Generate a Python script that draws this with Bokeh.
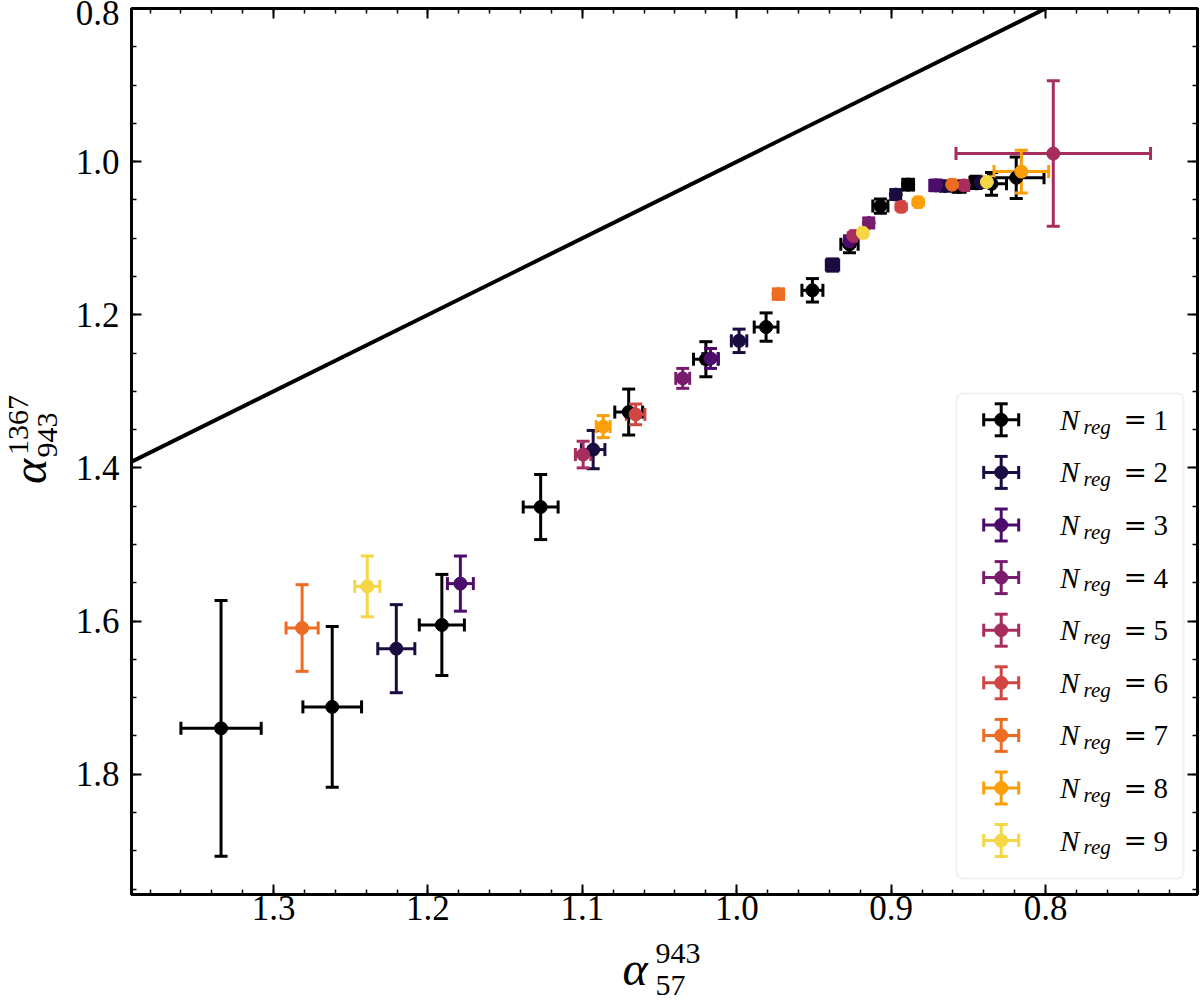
import math
from bokeh.plotting import figure
from bokeh.layouts import column, row
from bokeh.models import (Range1d, FixedTicker, LinearAxis, PrintfTickFormatter,
                          Slope, BoxAnnotation)
from bokeh.palettes import Inferno256
from bokeh.core.properties import value
from bokeh.embed import file_html
from bokeh.resources import INLINE

# ---------------------------------------------------------------- data
N_REG = [1, 2, 3, 4, 5, 6, 7, 8, 9]

# spectral index alpha_57^943 (x) per number of regions
ALPHA_X = [
    [1.334, 1.262, 1.191, 1.127, 1.070, 1.020, 0.981, 0.951, 0.927, 0.907, 0.889, 0.856, 0.845, 0.835, 0.819],
    [1.2205, 1.093, 0.9985, 0.938, 0.897, 0.865, 0.842],
    [1.179, 1.017, 0.927, 0.871],
    [1.035, 0.9145],
    [1.0995, 0.9245, 0.853, 0.795],
    [1.0655, 0.8935],
    [1.2815, 0.973, 0.8605],
    [1.0865, 0.8825, 0.8157],
    [1.2393, 0.9183, 0.838],
]
# spectral index alpha_943^1367 (y)
ALPHA_Y = [
    [1.740, 1.712, 1.605, 1.451, 1.327, 1.258, 1.216, 1.168, 1.108, 1.058, 1.030, 1.033, 1.027, 1.029, 1.021],
    [1.636, 1.376, 1.234, 1.135, 1.043, 1.032, 1.027],
    [1.551, 1.257, 1.104, 1.031],
    [1.283, 1.080],
    [1.3825, 1.097, 1.031, 0.9895],
    [1.330, 1.059],
    [1.609, 1.173, 1.030],
    [1.346, 1.053, 1.013],
    [1.5546, 1.093, 1.0265],
]
ERR_X = [
    [0.026, 0.019, 0.0146, 0.0113, 0.009, 0.008, 0.0077, 0.0068, 0.0056, 0.0049, 0.0035, 0.004, 0.004, 0.0097, 0.018],
    [0.012, 0.0076, 0.005, 0.004, 0.003, 0.003, 0.003],
    [0.0084, 0.005, 0.003, 0.004],
    [0.0045, 0.003],
    [0.005, 0.002, 0.003, 0.063],
    [0.006, 0.002],
    [0.0104, 0.0033, 0.002],
    [0.0045, 0.002, 0.0177],
    [0.0081, 0.002, 0.003],
]
ERR_Y = [
    [0.167, 0.105, 0.066, 0.0425, 0.030, 0.0229, 0.0185, 0.0153, 0.011, 0.0093, 0.007, 0.007, 0.008, 0.0148, 0.027],
    [0.0575, 0.025, 0.0153, 0.008, 0.006, 0.006, 0.006],
    [0.036, 0.013, 0.006, 0.007],
    [0.013, 0.006],
    [0.0174, 0.004, 0.006, 0.095],
    [0.0135, 0.004],
    [0.0566, 0.0067, 0.004],
    [0.0144, 0.004, 0.028],
    [0.0397, 0.004, 0.006],
]

X_MAJOR = [0.8, 0.9, 1.0, 1.1, 1.2, 1.3]
Y_MAJOR = [0.8, 1.0, 1.2, 1.4, 1.6, 1.8]
X_MINOR = [round(0.70 + 0.02 * i, 2) for i in range(35)]
Y_MINOR = [round(0.80 + 0.05 * i, 2) for i in range(24)]

# inferno colours sampled on [0, 0.9]
COLORS = [Inferno256[min(255, int(0.9 * k / 8 * 256))] for k in range(9)]

# ---------------------------------------------------------------- layout
W, H = 1200, 1002
YT_W = 66          # strip holding the y-axis title
XT_H = 68          # strip holding the x-axis title
MAIN_W, MAIN_H = W - YT_W, H - XT_H
B_L, B_R, B_T, B_B = 65, 3, 8, 40
FRAME_X0, FRAME_Y0 = YT_W + B_L, B_T          # frame corner on the page
FRAME_W = MAIN_W - B_L - B_R
FRAME_H = MAIN_H - B_T - B_B
X_START, X_END = 1.392, 0.7016
Y_BOTTOM, Y_TOP = 1.957, 0.8


def to_x(cx):
    return X_START + (cx - FRAME_X0) * (X_END - X_START) / FRAME_W


def to_y(cy):
    return Y_TOP + (cy - FRAME_Y0) * (Y_BOTTOM - Y_TOP) / FRAME_H


SERIF = "Liberation Serif"
LW = 3
CAP = 13
MSIZE = 13

p = figure(width=MAIN_W, height=MAIN_H, output_backend="svg", toolbar_location=None,
           x_range=Range1d(X_START, X_END), y_range=Range1d(Y_BOTTOM, Y_TOP),
           min_border_left=B_L, min_border_right=B_R,
           min_border_top=B_T, min_border_bottom=B_B)
p.xgrid.visible = False
p.ygrid.visible = False
p.outline_line_color = "black"
p.outline_line_width = 3
p.background_fill_color = "white"
p.border_fill_color = "white"

bottom_axis = p.below[0]
left_axis = p.left[0]
top_axis = LinearAxis()
right_axis = LinearAxis()
p.add_layout(top_axis, "above")
p.add_layout(right_axis, "right")

for ax, ticks, minor in ((bottom_axis, X_MAJOR, X_MINOR), (top_axis, X_MAJOR, X_MINOR),
                         (left_axis, Y_MAJOR, Y_MINOR), (right_axis, Y_MAJOR, Y_MINOR)):
    ax.ticker = FixedTicker(ticks=ticks, minor_ticks=minor)
    ax.formatter = PrintfTickFormatter(format="%.1f")
    ax.axis_line_width = 3
    ax.axis_line_color = "black"
    ax.major_tick_in = 10
    ax.major_tick_out = 0
    ax.minor_tick_in = 5
    ax.minor_tick_out = 0
    ax.major_tick_line_width = 2
    ax.minor_tick_line_width = 1.5
    ax.major_tick_line_color = "black"
    ax.minor_tick_line_color = "black"
    ax.major_label_text_font = SERIF
    ax.major_label_text_font_size = "35px"
    ax.major_label_text_color = "black"

bottom_axis.major_label_standoff = 1
left_axis.major_label_standoff = 12
# mirrored tick marks only on the top and right edges
for ax in (top_axis, right_axis):
    ax.major_label_text_color = None
    ax.major_label_text_alpha = 0
    ax.major_label_text_font_size = "1px"
    ax.major_label_standoff = 0

# one-to-one line
p.add_layout(Slope(gradient=1, y_intercept=0, line_color="black", line_width=4))

# error bars of all series first, markers on top
for k in range(len(N_REG)):
    c = COLORS[k]
    xs, ys, ex, ey = ALPHA_X[k], ALPHA_Y[k], ERR_X[k], ERR_Y[k]
    x_lo = [x - e for x, e in zip(xs, ex)]
    x_hi = [x + e for x, e in zip(xs, ex)]
    y_lo = [y - e for y, e in zip(ys, ey)]
    y_hi = [y + e for y, e in zip(ys, ey)]
    p.segment(x0=x_lo, y0=ys, x1=x_hi, y1=ys, line_color=c, line_width=LW)
    p.segment(x0=xs, y0=y_lo, x1=xs, y1=y_hi, line_color=c, line_width=LW)
    p.scatter(x=xs + xs, y=y_lo + y_hi, marker="dash", size=CAP,
              line_color=c, line_width=LW, fill_color=None)
    p.scatter(x=x_lo + x_hi, y=ys + ys, marker="dash", angle=math.pi / 2, size=CAP,
              line_color=c, line_width=LW, fill_color=None)

for k in range(len(N_REG)):
    c = COLORS[k]
    p.scatter(x=ALPHA_X[k], y=ALPHA_Y[k], marker="circle", size=MSIZE,
              fill_color=c, line_color=c, line_width=1)

# ---------------------------------------------------------------- legend
LEG_L, LEG_T, LEG_R, LEG_B = 956, 393, 1183, 878
ROW0, ROW_STEP = 419.3, 52.6
HX, HALF_W, HALF_H = 1000.7, 17.5, 16

p.add_layout(BoxAnnotation(left=to_x(LEG_L), right=to_x(LEG_R), top=to_y(LEG_T), bottom=to_y(LEG_B),
                           fill_color="white", fill_alpha=0.8, line_color="#d3d3d3",
                           line_width=2, border_radius=6, level="underlay"))

rows = [ROW0 + ROW_STEP * k for k in range(len(N_REG))]
for k, cy in enumerate(rows):
    c = COLORS[k]
    gx, gy = to_x(HX), to_y(cy)
    p.segment(x0=[to_x(HX - HALF_W)], y0=[gy], x1=[to_x(HX + HALF_W)], y1=[gy], line_color=c, line_width=LW)
    p.segment(x0=[gx], y0=[to_y(cy - HALF_H)], x1=[gx], y1=[to_y(cy + HALF_H)], line_color=c, line_width=LW)
    p.scatter(x=[gx, gx], y=[to_y(cy - HALF_H), to_y(cy + HALF_H)], marker="dash", size=CAP,
              line_color=c, line_width=LW, fill_color=None)
    p.scatter(x=[to_x(HX - HALF_W), to_x(HX + HALF_W)], y=[gy, gy], marker="dash", angle=math.pi / 2,
              size=CAP, line_color=c, line_width=LW, fill_color=None)
    p.scatter(x=[gx], y=[gy], marker="circle", size=MSIZE, fill_color=c, line_color=c)

mid = dict(text_baseline="middle", text_color="black")
p.text(x=[to_x(1059.5)] * 9, y=[to_y(cy) for cy in rows], text=["N"] * 9, text_align="left",
       text_font=value(SERIF), text_font_style="italic", text_font_size="29px", **mid)
p.text(x=[to_x(1083)] * 9, y=[to_y(cy + 6.7) for cy in rows], text=["reg"] * 9, text_align="left",
       text_font=value(SERIF), text_font_style="italic", text_font_size="21px", **mid)
p.text(x=[to_x(1123)] * 9, y=[to_y(cy) for cy in rows], text=["="] * 9, text_align="left",
       text_font=value("DejaVu Serif"), text_font_size="28px", **mid)
p.text(x=[to_x(1153)] * 9, y=[to_y(cy + 0.5) for cy in rows], text=[str(n) for n in N_REG],
       text_align="left", text_font=value(SERIF), text_font_size="29px", **mid)


# ---------------------------------------------------------------- axis titles
def title_strip(width, height):
    f = figure(width=width, height=height, output_backend="svg", toolbar_location=None,
               x_range=Range1d(0, width), y_range=Range1d(height, 0),
               x_axis_type=None, y_axis_type=None,
               min_border_left=0, min_border_right=0, min_border_top=0, min_border_bottom=0)
    f.outline_line_color = None
    f.background_fill_color = "white"
    f.border_fill_color = "white"
    return f


def title_part(f, text, x, y, size, italic=False, angle=0.0, align="left"):
    f.text(x=[x], y=[y], text=[text], angle=angle, text_align=align, text_font=value(SERIF),
           text_font_size=size, text_font_style="italic" if italic else "normal", **mid)


# alpha_943^1367, reading upwards
ytitle = title_strip(YT_W, MAIN_H)
title_part(ytitle, "\u03b1", 29, 488, "48px", italic=True, angle=math.pi / 2, align="center")
title_part(ytitle, "1367", 17.5, 439, "30px", angle=math.pi / 2, align="center")
title_part(ytitle, "943", 47, 449.5, "30px", angle=math.pi / 2, align="center")

# alpha_57^943 (strip starts at page y = H - XT_H)
xtitle = title_strip(W, XT_H)
title_part(xtitle, "\u03b1", 622, 973 - 5 - (H - XT_H), "48px", italic=True)
title_part(xtitle, "943", 655, 953 - (H - XT_H), "30px")
title_part(xtitle, "57", 655, 985 - (H - XT_H), "30px")

page = column(row(ytitle, p), xtitle)
open("out.html", "w").write(file_html(page, INLINE))
